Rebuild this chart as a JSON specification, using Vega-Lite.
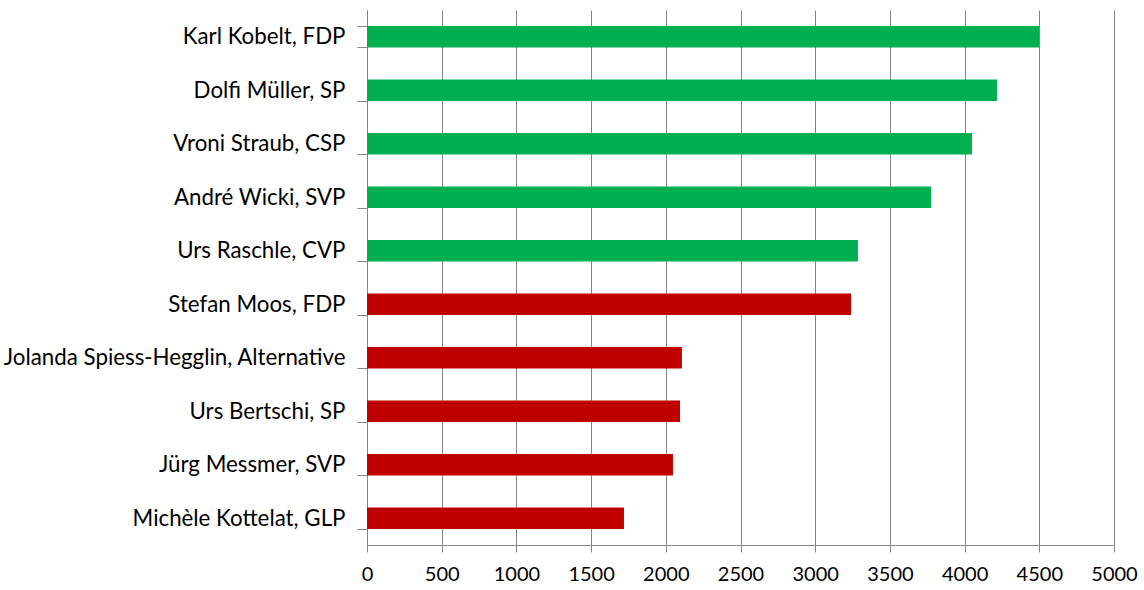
{
  "$schema": "https://vega.github.io/schema/vega-lite/v6.json",
  "autosize": "none",
  "width": 747,
  "height": 535,
  "padding": {"left": 367, "top": 10, "right": 30, "bottom": 45},
  "background": "white",
  "data": {
    "values": [
      {"name": "Karl Kobelt, FDP", "votes": 4498, "status": "gewählt"},
      {"name": "Dolfi Müller, SP", "votes": 4217, "status": "gewählt"},
      {"name": "Vroni Straub, CSP", "votes": 4050, "status": "gewählt"},
      {"name": "André Wicki, SVP", "votes": 3776, "status": "gewählt"},
      {"name": "Urs Raschle, CVP", "votes": 3286, "status": "gewählt"},
      {"name": "Stefan Moos, FDP", "votes": 3240, "status": "nicht gewählt"},
      {"name": "Jolanda Spiess-Hegglin, Alternative", "votes": 2108, "status": "nicht gewählt"},
      {"name": "Urs Bertschi, SP", "votes": 2095, "status": "nicht gewählt"},
      {"name": "Jürg Messmer, SVP", "votes": 2048, "status": "nicht gewählt"},
      {"name": "Michèle Kottelat, GLP", "votes": 1720, "status": "nicht gewählt"}
    ]
  },
  "mark": {"type": "bar"},
  "encoding": {
    "y": {
      "field": "name",
      "type": "nominal",
      "sort": null,
      "scale": {"paddingInner": 0.6, "paddingOuter": 0.3},
      "axis": {
        "title": null,
        "tickBand": "extent",
        "tickSize": 10,
        "tickColor": "#868686",
        "domainColor": "#868686",
        "labelPadding": 12,
        "labelFont": "Lato",
        "labelFontSize": 22.3,
        "labelColor": "#000000",
        "labelLimit": 400,
        "grid": false
      }
    },
    "x": {
      "field": "votes",
      "type": "quantitative",
      "scale": {"domain": [0, 5000], "nice": false},
      "axis": {
        "title": null,
        "values": [0, 500, 1000, 1500, 2000, 2500, 3000, 3500, 4000, 4500, 5000],
        "format": "d",
        "grid": true,
        "gridColor": "#868686",
        "gridWidth": 1,
        "tickSize": 7,
        "tickColor": "#868686",
        "domainColor": "#868686",
        "labelPadding": 12,
        "labelFont": "Lato",
        "labelFontSize": 20,
        "labelColor": "#000000",
        "labelFlush": false
      }
    },
    "color": {
      "field": "status",
      "type": "nominal",
      "scale": {"domain": ["gewählt", "nicht gewählt"], "range": ["#00B050", "#C00000"]},
      "legend": null
    }
  },
  "config": {"view": {"stroke": null}}
}
